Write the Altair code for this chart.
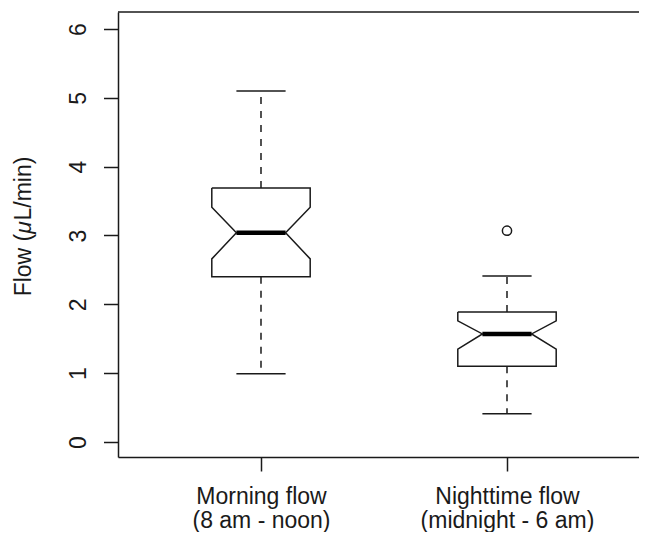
import altair as alt
import pandas as pd

# ---- data ----
groups = ["Morning flow", "Nighttime flow"]
group_sub = ["(8 am - noon)", "(midnight - 6 am)"]
positions = [1, 2]
whisker_low = [0.99, 0.41]
q1 = [2.40, 1.10]
notch_low = [2.66, 1.35]
median = [3.04, 1.57]
notch_high = [3.41, 1.76]
q3 = [3.69, 1.89]
whisker_high = [5.10, 2.41]
outlier_pos = [2]
outlier_value = [3.07]
y_ticks = [0, 1, 2, 3, 4, 5, 6]
title_parts = ["Flow (", "\u03bc", "L/min)"]
title_styles = ["normal", "italic", "normal"]
title_em = [2.722, 0.576, 2.778]

# ---- style / layout ----
BOX_HALF = 0.2
NOTCH_HALF = 0.1
CAP_HALF = 0.1
X_DOMAIN = [0.4187, 2.5366]
Y_DOMAIN = [-0.218, 6.247]
W, H = 521, 445
FONT = "Liberation Sans"
FS = 23
INK = "#1a1a1a"

xs = alt.Scale(domain=X_DOMAIN, nice=False, zero=False)
ys = alt.Scale(domain=Y_DOMAIN, nice=False, zero=False)

# polygon outline of notched boxes
rows = []
for g, p, a, nl, m, nh, b in zip(groups, positions, q1, notch_low, median, notch_high, q3):
    pts = [(p - BOX_HALF, b), (p + BOX_HALF, b), (p + BOX_HALF, nh), (p + NOTCH_HALF, m),
           (p + BOX_HALF, nl), (p + BOX_HALF, a), (p - BOX_HALF, a), (p - BOX_HALF, nl),
           (p - NOTCH_HALF, m), (p - BOX_HALF, nh), (p - BOX_HALF, b)]
    for i, (x, y) in enumerate(pts):
        rows.append({"group": g, "i": i, "x": x, "y": y})
poly = pd.DataFrame(rows)

summ = pd.DataFrame({
    "group": groups, "pos": positions, "wl": whisker_low, "q1": q1,
    "med": median, "q3": q3, "wh": whisker_high,
})
summ["ml"] = summ["pos"] - NOTCH_HALF
summ["mr"] = summ["pos"] + NOTCH_HALF
summ["cl"] = summ["pos"] - CAP_HALF
summ["cr"] = summ["pos"] + CAP_HALF

out = pd.DataFrame({"pos": outlier_pos, "v": outlier_value})

label_expr = " : ".join(
    f"datum.value == {p} ? [{a!r}, {b!r}]" for p, a, b in zip(positions, groups, group_sub)
) + " : ''"

x_axis = alt.Axis(values=positions, labelExpr=label_expr, title=None, grid=False,
                  tickSize=14, labelPadding=14, labelBaseline="top", labelLineHeight=24,
                  labelOverlap=False, labelFlush=False, labelBound=False)
y_axis = alt.Axis(values=y_ticks, title=None, grid=False, tickSize=14.5, labelPadding=18.5,
                  labelAngle=-90, labelAlign="center", labelBaseline="alphabetic",
                  labelOverlap=False, labelFlush=False, labelBound=False, format="d")


def X(field):
    return alt.X(field, scale=xs, axis=x_axis)


def Y(field):
    return alt.Y(field, scale=ys, axis=y_axis)


boxes = alt.Chart(poly).mark_line(color=INK, strokeWidth=1.5, strokeJoin="miter").encode(
    x=X("x:Q"), y=Y("y:Q"), detail="group:N", order="i:Q")

base = alt.Chart(summ)
medians = base.mark_rule(color="#000", strokeWidth=4.5).encode(
    x=X("ml:Q"), x2="mr:Q", y=Y("med:Q"))
up_wh = base.mark_rule(color=INK, strokeWidth=1.5, strokeDash=[7, 7]).encode(
    x=X("pos:Q"), y=Y("q3:Q"), y2="wh:Q")
lo_wh = base.mark_rule(color=INK, strokeWidth=1.5, strokeDash=[7, 7]).encode(
    x=X("pos:Q"), y=Y("q1:Q"), y2="wl:Q")
up_cap = base.mark_rule(color=INK, strokeWidth=1.5).encode(
    x=X("cl:Q"), x2="cr:Q", y=Y("wh:Q"))
lo_cap = base.mark_rule(color=INK, strokeWidth=1.5).encode(
    x=X("cl:Q"), x2="cr:Q", y=Y("wl:Q"))
outliers = alt.Chart(out).mark_point(shape="circle", filled=False, color=INK, size=85,
                                     strokeWidth=1.5, opacity=1).encode(
    x=X("pos:Q"), y=Y("v:Q"))

top_frame = alt.Chart(pd.DataFrame({"a": [0]})).mark_rule(color=INK, strokeWidth=1.5).encode(
    x=alt.value(0), x2=alt.value(W), y=alt.value(0))

# y-axis title pieces (rotated, reading upward), centred around the plot
title_center = 214.5
total = sum(title_em) * FS
start = title_center + total / 2
title_layers = []
off = 0.0
for txt, st, em in zip(title_parts, title_styles, title_em):
    title_layers.append(
        alt.Chart(pd.DataFrame({"t": [txt]})).mark_text(
            angle=270, align="left", baseline="alphabetic", font=FONT, fontSize=FS,
            fontStyle=st, color=INK,
        ).encode(text="t:N", x=alt.value(-87), y=alt.value(start - off))
    )
    off += em * FS

chart = alt.layer(boxes, up_wh, lo_wh, up_cap, lo_cap, medians, outliers, top_frame,
                  *title_layers).properties(
    width=W, height=H,
    autosize=alt.AutoSizeParams(type="none"),
    padding={"left": 110, "top": 4, "right": 0, "bottom": 75},
).configure_view(stroke=None).configure_axis(
    labelFont=FONT, labelFontSize=FS, labelColor=INK, domainColor=INK, tickColor=INK,
    domainWidth=1.5, tickWidth=1.5,
)

chart.save("out.html", embed_options={"renderer": "svg", "actions": False})
